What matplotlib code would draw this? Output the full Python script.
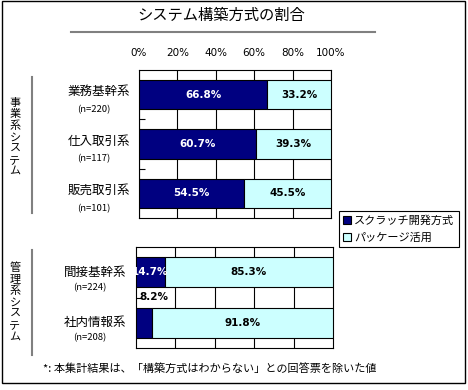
import matplotlib.pyplot as plt
from matplotlib.lines import Line2D
from matplotlib.patches import Rectangle, Patch

plt.rcParams['font.family'] = ['Noto Sans CJK JP', 'DejaVu Sans']

# data
title = "システム構築方式の割合"
series_names = ["スクラッチ開発方式", "パッケージ活用"]
colors = ["#000080", "#CCFFFF"]

biz_labels = ["業務基幹系", "仕入取引系", "販売取引系"]
biz_n = ["(n=220)", "(n=117)", "(n=101)"]
biz_scratch = [66.8, 60.7, 54.5]
biz_package = [33.2, 39.3, 45.5]

mgmt_labels = ["間接基幹系", "社内情報系"]
mgmt_n = ["(n=224)", "(n=208)"]
mgmt_scratch = [14.7, 8.2]
mgmt_package = [85.3, 91.8]

xticks = [0, 20, 40, 60, 80, 100]
note = "*: 本集計結果は、「構築方式はわからない」との回答票を除いた値"

W, H = 468, 390
fig = plt.figure(figsize=(W / 100, H / 100), dpi=100)


def fx(x):
    return x / W


def fy(y):
    return 1 - y / H


def draw_group(rect, labels, ns, scratch, package, show_ticks, name_dy, n_dy, name_x):
    ax = fig.add_axes(rect)
    ypos = list(range(len(labels)))
    ax.barh(ypos, scratch, height=0.6, color=colors[0], edgecolor="black", linewidth=0.8, zorder=3)
    ax.barh(ypos, package, left=scratch, height=0.6, color=colors[1], edgecolor="black", linewidth=0.8, zorder=3)
    ax.set_xlim(0, 100)
    ax.set_ylim(len(labels) - 0.5, -0.5)
    ax.set_xticks(xticks[1:-1])
    ax.grid(axis="x", color="black", linewidth=0.8, zorder=0)
    ax.set_yticks([])
    ax.set_yticks([i + 0.5 for i in range(len(labels) - 1)], minor=True)
    ax.tick_params(axis="y", which="minor", direction="in", length=4, width=0.8)
    ax.tick_params(axis="x", length=0)
    if show_ticks:
        ax.xaxis.tick_top()
        ax.set_xticks(xticks)
        ax.set_xticklabels([f"{t}%" for t in xticks], fontsize=7.5, family="DejaVu Sans")
        ax.tick_params(axis="x", pad=9)
    else:
        ax.set_xticklabels([])
    for s in ax.spines.values():
        s.set_linewidth(0.8)
    for i in ypos:
        if scratch[i] >= 10:
            ax.text(scratch[i] / 2, i, f"{scratch[i]:.1f}%", color="white", ha="center", va="center",
                    fontsize=7.5, fontweight="bold", family="DejaVu Sans", zorder=4)
        else:
            ax.text(1.5, i - 0.5, f"{scratch[i]:.1f}%", color="black", ha="left", va="center",
                    fontsize=7.5, fontweight="bold", family="DejaVu Sans", zorder=4)
        ax.text(scratch[i] + package[i] / 2, i, f"{package[i]:.1f}%", color="black", ha="center",
                va="center", fontsize=7.5, fontweight="bold", family="DejaVu Sans", zorder=4)
    # category labels outside the axes
    for i, (lab, n) in enumerate(zip(labels, ns)):
        yc = ax.transData.transform((0, i))[1] / fig.dpi / fig.get_figheight()
        fig.text(fx(name_x), yc + name_dy / H, lab, ha="right", va="center", fontsize=9)
        fig.text(fx(name_x - 36), yc - n_dy / H, n, ha="center", va="center", fontsize=6.8)
    return ax


draw_group([fx(139), fy(218), fx(331) - fx(139), fy(70) - fy(218)],
           biz_labels, biz_n, biz_scratch, biz_package, True, 3, 15, 130)
draw_group([fx(136), fy(348), fx(333) - fx(136), fy(247) - fy(348)],
           mgmt_labels, mgmt_n, mgmt_scratch, mgmt_package, False, 0, 15, 126)

# title and underline
fig.text(fx(221), fy(15), title, ha="center", va="center", fontsize=11)
fig.add_artist(Line2D([fx(71), fx(375)], [fy(32), fy(32)], color="#808080", linewidth=1.5))

# group labels with vertical bars
fig.text(fx(15), fy(137), "\n".join("事業系システム"), ha="center", va="center", fontsize=8, linespacing=1.15)
fig.add_artist(Line2D([fx(32), fx(32)], [fy(77), fy(213)], color="#808080", linewidth=1.5))
fig.text(fx(15), fy(302), "\n".join("管理系システム"), ha="center", va="center", fontsize=8, linespacing=1.15)
fig.add_artist(Line2D([fx(32), fx(32)], [fy(250), fy(355)], color="#808080", linewidth=1.5))

# legend
handles = [Patch(facecolor=c, edgecolor="black", linewidth=0.8) for c in colors]
leg = fig.legend(handles, series_names, loc="upper left", bbox_to_anchor=(fx(339), fy(211)),
                 fontsize=8, frameon=True, fancybox=False, edgecolor="black", framealpha=1,
                 handlelength=0.7, handleheight=0.7, handletextpad=0.25, borderpad=0.4,
                 labelspacing=0.6, borderaxespad=0)
leg.get_frame().set_linewidth(0.8)

# footnote
fig.text(fx(43), fy(368), note, ha="left", va="center", fontsize=8)

# outer frame
fig.add_artist(Rectangle((fx(1.5), fy(383)), fx(465) - fx(1.5), fy(0.5) - fy(383),
                         fill=False, edgecolor="black", linewidth=1))

fig.savefig("out.png", dpi=100)
